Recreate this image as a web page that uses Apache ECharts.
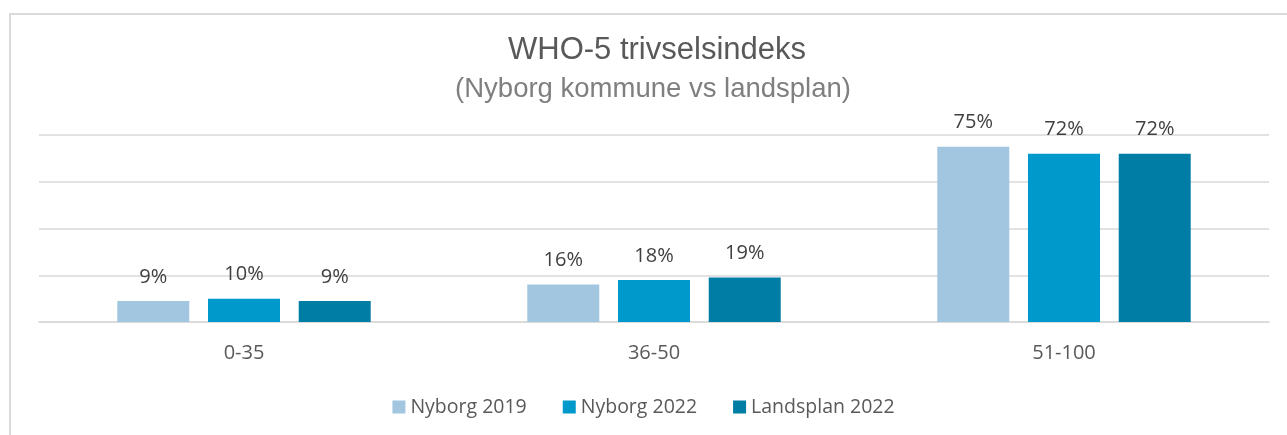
<!DOCTYPE html>
<html>
<head>
<meta charset="utf-8">
<script src="https://cdn.jsdelivr.net/npm/echarts@6/dist/echarts.min.js"></script>
<style>
  html, body { margin: 0; padding: 0; background: #fff; }
  #main { width: 1287px; height: 435px; }
  .frame {
    position: absolute; left: 9px; top: 13px; right: -5px; bottom: -5px;
    border-top: 2px solid #d9d9d9; border-left: 2px solid #d9d9d9;
    pointer-events: none;
  }
</style>
</head>
<body>
<div id="main"></div>
<div class="frame"></div>
<script>
// data
var categories = ["0-35", "36-50", "51-100"];
var seriesNames = ["Nyborg 2019", "Nyborg 2022", "Landsplan 2022"];
var nyborg2019 = [9, 16, 75];
var nyborg2022 = [10, 18, 72];
var landsplan2022 = [9, 19, 72];
var colors = ["#A3C6E0", "#0099CC", "#007DA5"];

var font = "'Open Sans', sans-serif";

function makeSeries(name, data, color) {
  return {
    name: name,
    type: "bar",
    data: data,
    barWidth: 72,
    barGap: "26%",
    itemStyle: { color: color },
    label: {
      show: true,
      position: "top",
      distance: 14,
      formatter: "{c}%",
      color: "#404040",
      fontSize: 20,
      fontFamily: font
    }
  };
}

var myChart = echarts.init(document.getElementById("main"));
var option = {
  animation: false,
  title: [
    {
      text: "WHO-5 trivselsindeks",
      left: 652,
      textAlign: "center",
      top: 30,
      textStyle: { fontFamily: "'Liberation Sans', Arial", fontSize: 31, fontWeight: "normal", color: "#595959" }
    },
    {
      text: "(Nyborg kommune vs landsplan)",
      left: 648,
      textAlign: "center",
      top: 70,
      textStyle: { fontFamily: "'Liberation Sans', Arial", fontSize: 27.5, fontWeight: "normal", color: "#7f7f7f" }
    }
  ],
  legend: {
    data: seriesNames,
    bottom: 13,
    left: "center",
    itemWidth: 13,
    itemHeight: 13,
    itemGap: 36,
    icon: "rect",
    textStyle: { fontFamily: font, fontSize: 19.5, color: "#595959" }
  },
  grid: { left: 39, right: 18, top: 135, bottom: 113 },
  xAxis: {
    type: "category",
    data: categories,
    axisLine: { lineStyle: { color: "#d9d9d9", width: 1.5 } },
    axisTick: { show: false },
    axisLabel: { color: "#595959", fontFamily: font, fontSize: 20, margin: 21 }
  },
  yAxis: {
    type: "value",
    min: 0,
    max: 80,
    interval: 20,
    axisLabel: { show: false },
    axisLine: { show: false },
    axisTick: { show: false },
    splitLine: { lineStyle: { color: "#d9d9d9", width: 1.5 } }
  },
  series: [
    makeSeries(seriesNames[0], nyborg2019, colors[0]),
    makeSeries(seriesNames[1], nyborg2022, colors[1]),
    makeSeries(seriesNames[2], landsplan2022, colors[2])
  ]
};
myChart.setOption(option);
</script>
</body>
</html>
